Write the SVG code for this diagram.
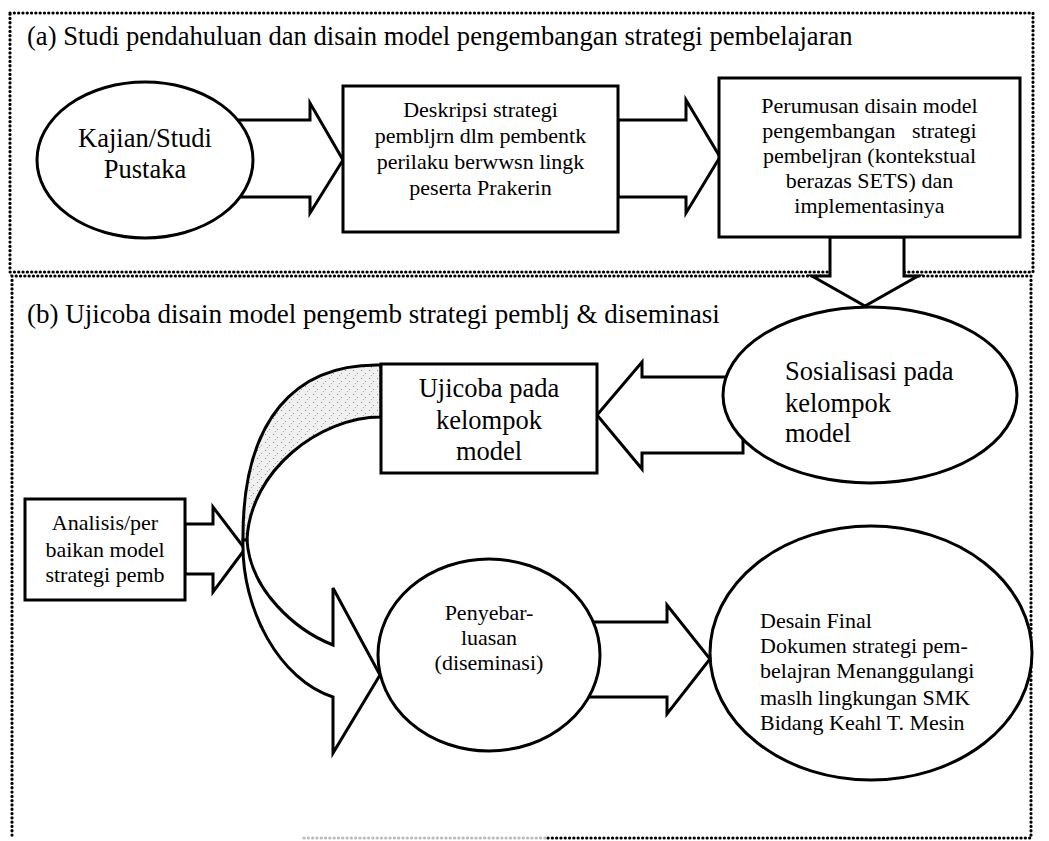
<svg xmlns="http://www.w3.org/2000/svg" width="1049" height="841" viewBox="0 0 1049 841">
<defs>
<style>
.t{font-family:"Liberation Serif","Times New Roman",serif;fill:#000}
.ttl{font-size:27px}
.big{font-size:26.5px}
.sm{font-size:22px}
.c{text-anchor:middle}
.pre{white-space:pre}
.sh{fill:#fff;stroke:#000;stroke-width:3;stroke-linejoin:miter}
.dot{fill:none;stroke:#000;stroke-width:3.2;stroke-dasharray:0.1 4.2;stroke-linecap:round}
</style>
<pattern id="stip" width="8" height="8" patternUnits="userSpaceOnUse">
<rect width="8" height="8" fill="#f0f0f0"/>
<rect x="1" y="2" width="1" height="1" fill="#888"/>
<rect x="5" y="5" width="1" height="1" fill="#999"/>
<rect x="3" y="7" width="1" height="1" fill="#aaa"/>
</pattern>
</defs>
<rect width="1049" height="841" fill="#fff"/>
<g id="panels">
<rect class="dot" x="10" y="13" width="1023" height="259"/>
<path class="dot" d="M548,838 H1031 V276 H12 V838"/>
<path class="dot" style="stroke:#bbb" d="M304,838 H548"/>
<text class="t" style="font-size:26.6px" x="27" y="45">(a) Studi pendahuluan dan disain model pengembangan strategi pembelajaran</text>
<text class="t ttl" x="27" y="323">(b) Ujicoba disain model pengemb strategi pemblj &amp; diseminasi</text>
</g>
<g id="connectors">
<polygon class="sh" points="200,120 310,120 310,103 343,160 310,213 310,197 200,197"/>
<polygon class="sh" points="618,120 686,120 686,100 720,157 686,213 686,197 618,197"/>
<polygon class="sh" points="830,237 904,237 904,276 918,276 865,306 812,276 830,276"/>
<polygon class="sh" points="743,377 642,377 642,362 597,415 642,469 642,453 743,453"/>
<polygon class="sh" points="185,524 213,524 213,507 245,549 213,592 213,574 185,574"/>
<path class="sh" style="fill:url(#stip)" d="M381,365 C295,363 242,420 243,540 L247,540 C250,470 320,417 381,417 Z"/>
<path class="sh" d="M243,540 C241,610 280,680 333,697 L333,753 L380,675 L333,588 L333,645 C295,630 250,590 247,540 Z"/>
<polygon class="sh" points="560,622 667,622 667,605 710,659 667,714 667,697 560,697"/>
</g>
<g id="kajian">
<ellipse class="sh" cx="145" cy="160" rx="108" ry="78"/>
<text class="t big c" x="145" y="147">Kajian/Studi</text>
<text class="t big c" x="145" y="178">Pustaka</text>
</g>
<g id="deskripsi">
<rect class="sh" x="343" y="86" width="275" height="146"/>
<text class="t sm c" x="480.5" y="117">Deskripsi strategi</text>
<text class="t sm c" x="480.5" y="143">pembljrn dlm pembentk</text>
<text class="t sm c" x="480.5" y="169">perilaku berwwsn lingk</text>
<text class="t sm c" x="480.5" y="195">peserta Prakerin</text>
</g>
<g id="perumusan">
<rect class="sh" x="719" y="78" width="301" height="159"/>
<text class="t sm c" x="869.5" y="113">Perumusan disain model</text>
<text class="t sm c pre" x="869.5" y="138">pengembangan   strategi</text>
<text class="t sm c" x="869.5" y="163">pembeljran (kontekstual</text>
<text class="t sm c" x="869.5" y="188">berazas SETS) dan</text>
<text class="t sm c" x="869.5" y="213">implementasinya</text>
</g>
<g id="sosialisasi">
<ellipse class="sh" cx="870" cy="395" rx="147" ry="88"/>
<text class="t big" x="785" y="380">Sosialisasi pada</text>
<text class="t big" x="785" y="412">kelompok</text>
<text class="t big" x="785" y="442">model</text>
</g>
<g id="ujicoba">
<rect class="sh" x="381" y="364" width="216" height="109"/>
<text class="t big c" x="489" y="397">Ujicoba pada</text>
<text class="t big c" x="489" y="429">kelompok</text>
<text class="t big c" x="489" y="460">model</text>
</g>
<g id="analisis">
<rect class="sh" x="25" y="499" width="160" height="101"/>
<text class="t sm c" x="105" y="530">Analisis/per</text>
<text class="t sm c" x="105" y="557">baikan model</text>
<text class="t sm c" x="105" y="582">strategi pemb</text>
</g>
<g id="penyebarluasan">
<ellipse class="sh" cx="489" cy="655" rx="111" ry="96"/>
<text class="t sm c" x="489" y="620">Penyebar-</text>
<text class="t sm c" x="489" y="645">luasan</text>
<text class="t sm c" x="489" y="670">(diseminasi)</text>
</g>
<g id="desain">
<ellipse class="sh" cx="871" cy="653" rx="161" ry="127"/>
<text class="t sm" x="760" y="628">Desain Final</text>
<text class="t sm" x="760" y="653">Dokumen strategi pem-</text>
<text class="t sm" x="760" y="678">belajran Menanggulangi</text>
<text class="t sm" x="760" y="705">maslh lingkungan SMK</text>
<text class="t sm" x="760" y="730">Bidang Keahl T. Mesin</text>
</g>
</svg>
